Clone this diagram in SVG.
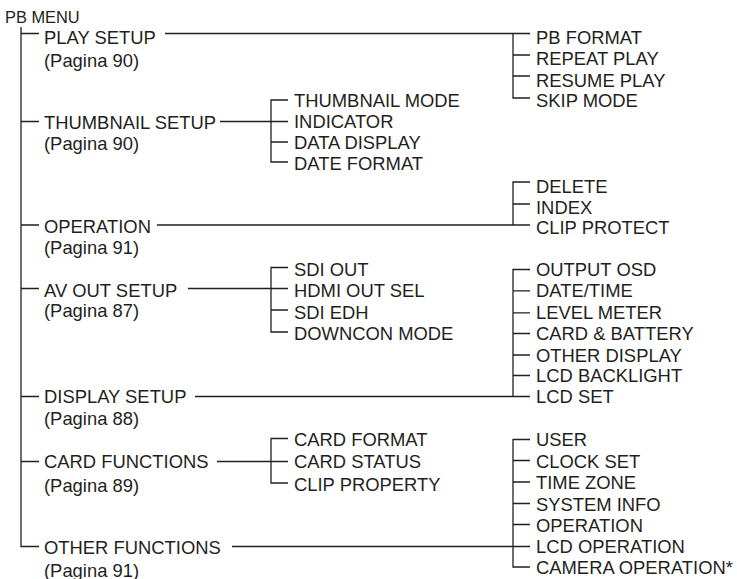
<svg xmlns="http://www.w3.org/2000/svg" width="737" height="579" viewBox="0 0 737 579">
<style>
text{font-family:"Liberation Sans",Arial,Helvetica,sans-serif;font-size:18.4px;fill:#231f20}
.root{font-size:16.4px}
.c path{stroke:#231f20;stroke-width:1.3;fill:none}
</style>
<rect width="737" height="579" fill="#fff"/>
<g class="c" id="connectors">
<path d="M21,27V546.5H39M21,33.5H39M21,121.5H39M21,225H39M21,288.5H39M21,396.5H39M21,461.5H39"/>
<path d="M165,33.5H530M513,33.5V98H530M513,55H530M513,76H530"/>
<path d="M220,121.5H288M288,100H271V162H288M271,142H288"/>
<path d="M157,225H530M530,182H513V225M513,204H530"/>
<path d="M188,288.5H288M288,267.5H271V332H288M271,310H288"/>
<path d="M195,396.5H530M530,269.5H513V396.5M513,290.8H530M513,312.8H530M513,333.5H530M513,355H530M513,375.5H530"/>
<path d="M217,461.5H288M288,438.5H271V483H288"/>
<path d="M232,546.5H530M530,439.5H513V567H530M513,460.5H530M513,482H530M513,503.5H530M513,524.5H530"/>
</g>
<g id="pb-menu"><text class="root" x="5" y="22.5">PB MENU</text></g>
<g id="play-setup"><text x="44" y="44">PLAY SETUP</text><text x="44" y="67">(Pagina 90)</text></g>
<g id="thumbnail-setup"><text x="44" y="128.5">THUMBNAIL SETUP</text><text x="44" y="150">(Pagina 90)</text></g>
<g id="operation"><text x="44" y="233.3">OPERATION</text><text x="44" y="253.5">(Pagina 91)</text></g>
<g id="av-out-setup"><text x="44" y="296.7">AV OUT SETUP</text><text x="44" y="317">(Pagina 87)</text></g>
<g id="display-setup"><text x="44" y="402.5">DISPLAY SETUP</text><text x="44" y="424.5">(Pagina 88)</text></g>
<g id="card-functions"><text x="44" y="468.3">CARD FUNCTIONS</text><text x="44" y="491.5">(Pagina 89)</text></g>
<g id="other-functions"><text x="44" y="553.5">OTHER FUNCTIONS</text><text x="44" y="576.5">(Pagina 91)</text></g>

<g id="pb-format"><text x="536" y="44">PB FORMAT</text></g>
<g id="repeat-play"><text x="536" y="65">REPEAT PLAY</text></g>
<g id="resume-play"><text x="536" y="86.5">RESUME PLAY</text></g>
<g id="skip-mode"><text x="536" y="107">SKIP MODE</text></g>

<g id="thumbnail-mode"><text x="294" y="107">THUMBNAIL MODE</text></g>
<g id="indicator"><text x="294" y="128.3">INDICATOR</text></g>
<g id="data-display"><text x="294" y="149">DATA DISPLAY</text></g>
<g id="date-format"><text x="294" y="170">DATE FORMAT</text></g>

<g id="delete"><text x="536" y="192.5">DELETE</text></g>
<g id="index"><text x="536" y="213.5">INDEX</text></g>
<g id="clip-protect"><text x="536" y="234">CLIP PROTECT</text></g>

<g id="sdi-out"><text x="294" y="276">SDI OUT</text></g>
<g id="hdmi-out-sel"><text x="294" y="297.3">HDMI OUT SEL</text></g>
<g id="sdi-edh"><text x="294" y="319.3">SDI EDH</text></g>
<g id="downcon-mode"><text x="294" y="340">DOWNCON MODE</text></g>

<g id="output-osd"><text x="536" y="276">OUTPUT OSD</text></g>
<g id="date-time"><text x="536" y="297.3">DATE/TIME</text></g>
<g id="level-meter"><text x="536" y="319.3">LEVEL METER</text></g>
<g id="card-battery"><text x="536" y="340">CARD &amp; BATTERY</text></g>
<g id="other-display"><text x="536" y="361.7">OTHER DISPLAY</text></g>
<g id="lcd-backlight"><text x="536" y="382.3">LCD BACKLIGHT</text></g>
<g id="lcd-set"><text x="536" y="402.6">LCD SET</text></g>

<g id="card-format"><text x="294" y="446">CARD FORMAT</text></g>
<g id="card-status"><text x="294" y="468.3">CARD STATUS</text></g>
<g id="clip-property"><text x="294" y="491">CLIP PROPERTY</text></g>

<g id="user"><text x="536" y="446">USER</text></g>
<g id="clock-set"><text x="536" y="467.7">CLOCK SET</text></g>
<g id="time-zone"><text x="536" y="489.3">TIME ZONE</text></g>
<g id="system-info"><text x="536" y="510.7">SYSTEM INFO</text></g>
<g id="operation-2"><text x="536" y="531.7">OPERATION</text></g>
<g id="lcd-operation"><text x="536" y="552.7">LCD OPERATION</text></g>
<g id="camera-operation"><text x="536" y="574">CAMERA OPERATION*</text></g>
</svg>
